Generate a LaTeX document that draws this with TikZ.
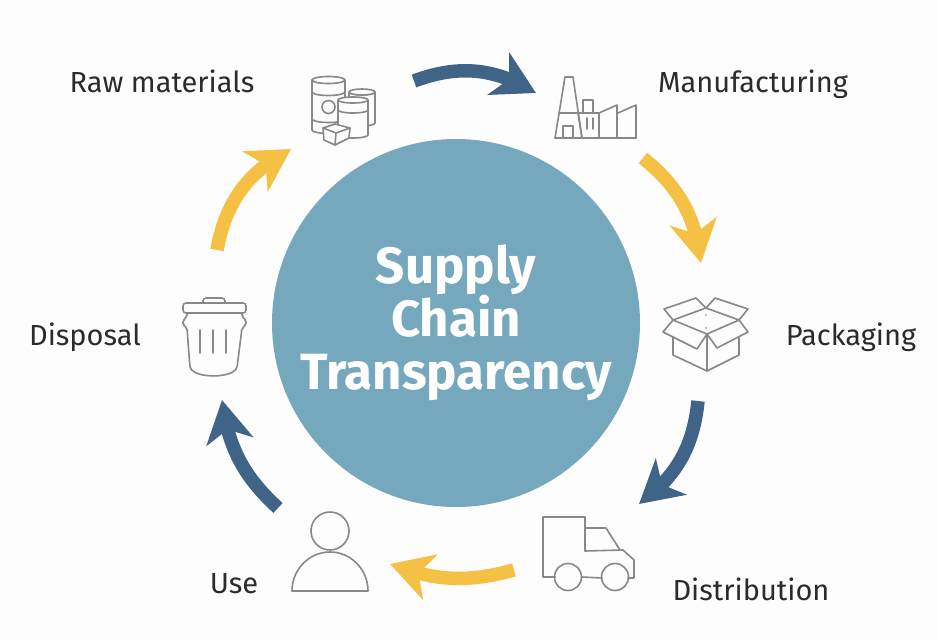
\documentclass[tikz,border=0pt]{standalone}
\usepackage{fontspec}
\setmainfont{Fira Sans}
\usetikzlibrary{arrows.meta,bending}
\definecolor{flowblue}{HTML}{3F6487}
\definecolor{flowyellow}{HTML}{F4C145}
\definecolor{hubteal}{HTML}{75A8BC}
\definecolor{iconline}{HTML}{87878C}
\definecolor{labelink}{HTML}{2B2B2B}
\definecolor{pagewhite}{HTML}{FDFDFD}
\tikzset{
	flow/.style={line width=13.5pt, -{Stealth[length=42pt,width=47pt,inset=12pt,flex=1]}},
	flowdark/.style={flow, draw=flowblue},
	flowlight/.style={flow, draw=flowyellow},
	spot/.style={inner sep=0pt, outer sep=0pt, minimum width=#1},
	icon/.style={draw=iconline, line width=1.6pt, line join=round, line cap=round, fill=pagewhite},
	stage/.style={anchor=base, text=labelink, font=\fontsize{29}{32}\selectfont},
}
\begin{document}
\begin{tikzpicture}[x=1pt, y=-1pt]
	\path[fill=pagewhite] (0,0) rectangle (938,640);
	\useasboundingbox (0,0) rectangle (938,640);

	\node[circle, fill=hubteal, minimum size=368pt, inner sep=0pt, text=white, align=center, font=\fontsize{51}{53}\selectfont\bfseries] (hub) at (456,323) {Supply\\Chain\\Transparency};

	\node[spot=123pt, minimum height=68pt] (raw) at (352.5,115) {};
	\node[spot=107pt, minimum height=65pt] (mfg) at (589.5,125.5) {};
	\node[spot=3pt, minimum height=138pt] (pack) at (699.5,332) {};
	\node[spot=125pt, minimum height=66pt] (dist) at (576.5,537) {};
	\node[spot=112pt, minimum height=56pt] (use) at (334,536) {};
	\node[spot=5pt, minimum height=150pt] (disp) at (219.5,325) {};

	\draw[flowdark] (raw.north east) to[bend left=26] (mfg.north west);
	\draw[flowlight] (mfg.south east) to[bend left=22] (pack.north east);
	\draw[flowdark] (pack.south west) to[bend left=24] (dist.north east);
	\draw[flowlight] (dist.south west) to[bend left=18] (use.south east);
	\draw[flowdark] (use.north west) to[bend left=20] (disp.south east);
	\draw[flowlight] (disp.north west) to[bend left=26] (raw.south west);

	\node[stage] (rawtext) at (162,92) {Raw materials};
	\node[stage] (mfgtext) at (753,92) {Manufacturing};
	\node[stage] (packtext) at (851,345) {Packaging};
	\node[stage] (disttext) at (751,600) {Distribution};
	\node[stage] (usetext) at (234,593) {Use};
	\node[stage] (disptext) at (85,345) {Disposal};

	% raw materials
	\draw[icon] (349,92) -- (349,123) arc (180:0:13 and 3) -- (375,92) arc (0:180:13 and 3) -- cycle;
	\draw[icon] (362,92) ellipse (13 and 3);
	\draw[icon] (312,80) -- (312,130) arc (180:0:16.5 and 3.5) -- (345,80);
	\draw[icon] (328.5,80) ellipse (16.5 and 3.5);
	\draw[icon, fill=none] (312,92) arc (180:0:16.5 and 3.5);
	\draw[icon, fill=none] (312,119) arc (180:0:16.5 and 3.5);
	\draw[icon] (328.5,107) circle (6.5);
	\draw[icon] (338,100) -- (338,135) arc (180:0:15 and 3) -- (368,100);
	\draw[icon] (353,100) ellipse (15 and 3);
	\draw[icon, fill=none] (338,110) arc (180:0:15 and 3);
	\draw[icon] (323,128) -- (335,124) -- (350,128) -- (349,138) -- (335,145) -- (324,140) -- cycle;
	\draw[icon, fill=none] (323,128) -- (336,133) -- (350,128) (336,133) -- (335,145);

	% manufacturing
	\draw[icon] (565,77) -- (573,77) -- (582,138) -- (555,138) -- cycle;
	\draw[icon] (583,100) rectangle (593,113);
	\draw[icon, fill=none] (559,113) -- (599,113);
	\draw[icon] (563,126) rectangle (573,138);
	\draw[icon, fill=none] (578,113) -- (582,138) -- (636,138);
	\draw[icon, fill=none] (587,118) -- (587,129) (593,118) -- (593,129);
	\draw[icon, fill=none] (599,113) -- (617,105) -- (617,138) (599,113) -- (599,138);
	\draw[icon, fill=none] (618,113) -- (636,105) -- (636,138);

	% packaging
	\draw[icon] (673,337) -- (673,355) -- (707,371) -- (739,355) -- (739,338);
	\draw[icon, fill=none] (707,334) -- (707,371);
	\draw[icon] (706,308) -- (696,298) -- (664,309) -- (673,320) -- cycle;
	\draw[icon] (706,308) -- (715,298) -- (748,309) -- (739,320) -- cycle;
	\draw[icon] (673,320) -- (663,332) -- (697,349) -- (707,334) -- cycle;
	\draw[icon] (739,320) -- (748,332) -- (717,348) -- (707,334) -- cycle;
	\fill[iconline] (706,315) circle (0.8) (706,328) circle (0.8);

	% distribution
	\draw[icon, fill=none] (555,577) -- (543,577) -- (543,517) -- (585,517) -- (585,551) -- (623,550) -- (634,560) -- (634,578) -- (628,578);
	\draw[icon, fill=none] (585,528) -- (606,528) -- (620,550);
	\draw[icon, fill=none] (582,577) -- (602,578);
	\draw[icon, fill=none] (568,577) circle (13.5);
	\draw[icon, fill=none] (615,577) circle (13.5);

	% use
	\draw[icon, fill=none] (330,531) circle (19);
	\draw[icon, fill=none] (292,591) arc (180:360:38 and 39) -- cycle;

	% disposal
	\draw[icon, fill=none, rounded corners=3pt] (203,303) -- (203,298) -- (225,298) -- (225,303);
	\draw[icon, fill=none, rounded corners=3pt] (183,303) rectangle (246,313);
	\draw[icon, fill=none, rounded corners=2pt] (187,313) -- (187,317) -- (183,320) -- (183,325) -- (187,328) -- (190,368) .. controls (198,378) and (229,378) .. (237,368) -- (242,328) -- (246,325) -- (246,320) -- (242,317) -- (242,313);
	\draw[icon, fill=none] (200,330) -- (200,353) (213,330) -- (213,353) (226,330) -- (226,353);
\end{tikzpicture}
\end{document}
